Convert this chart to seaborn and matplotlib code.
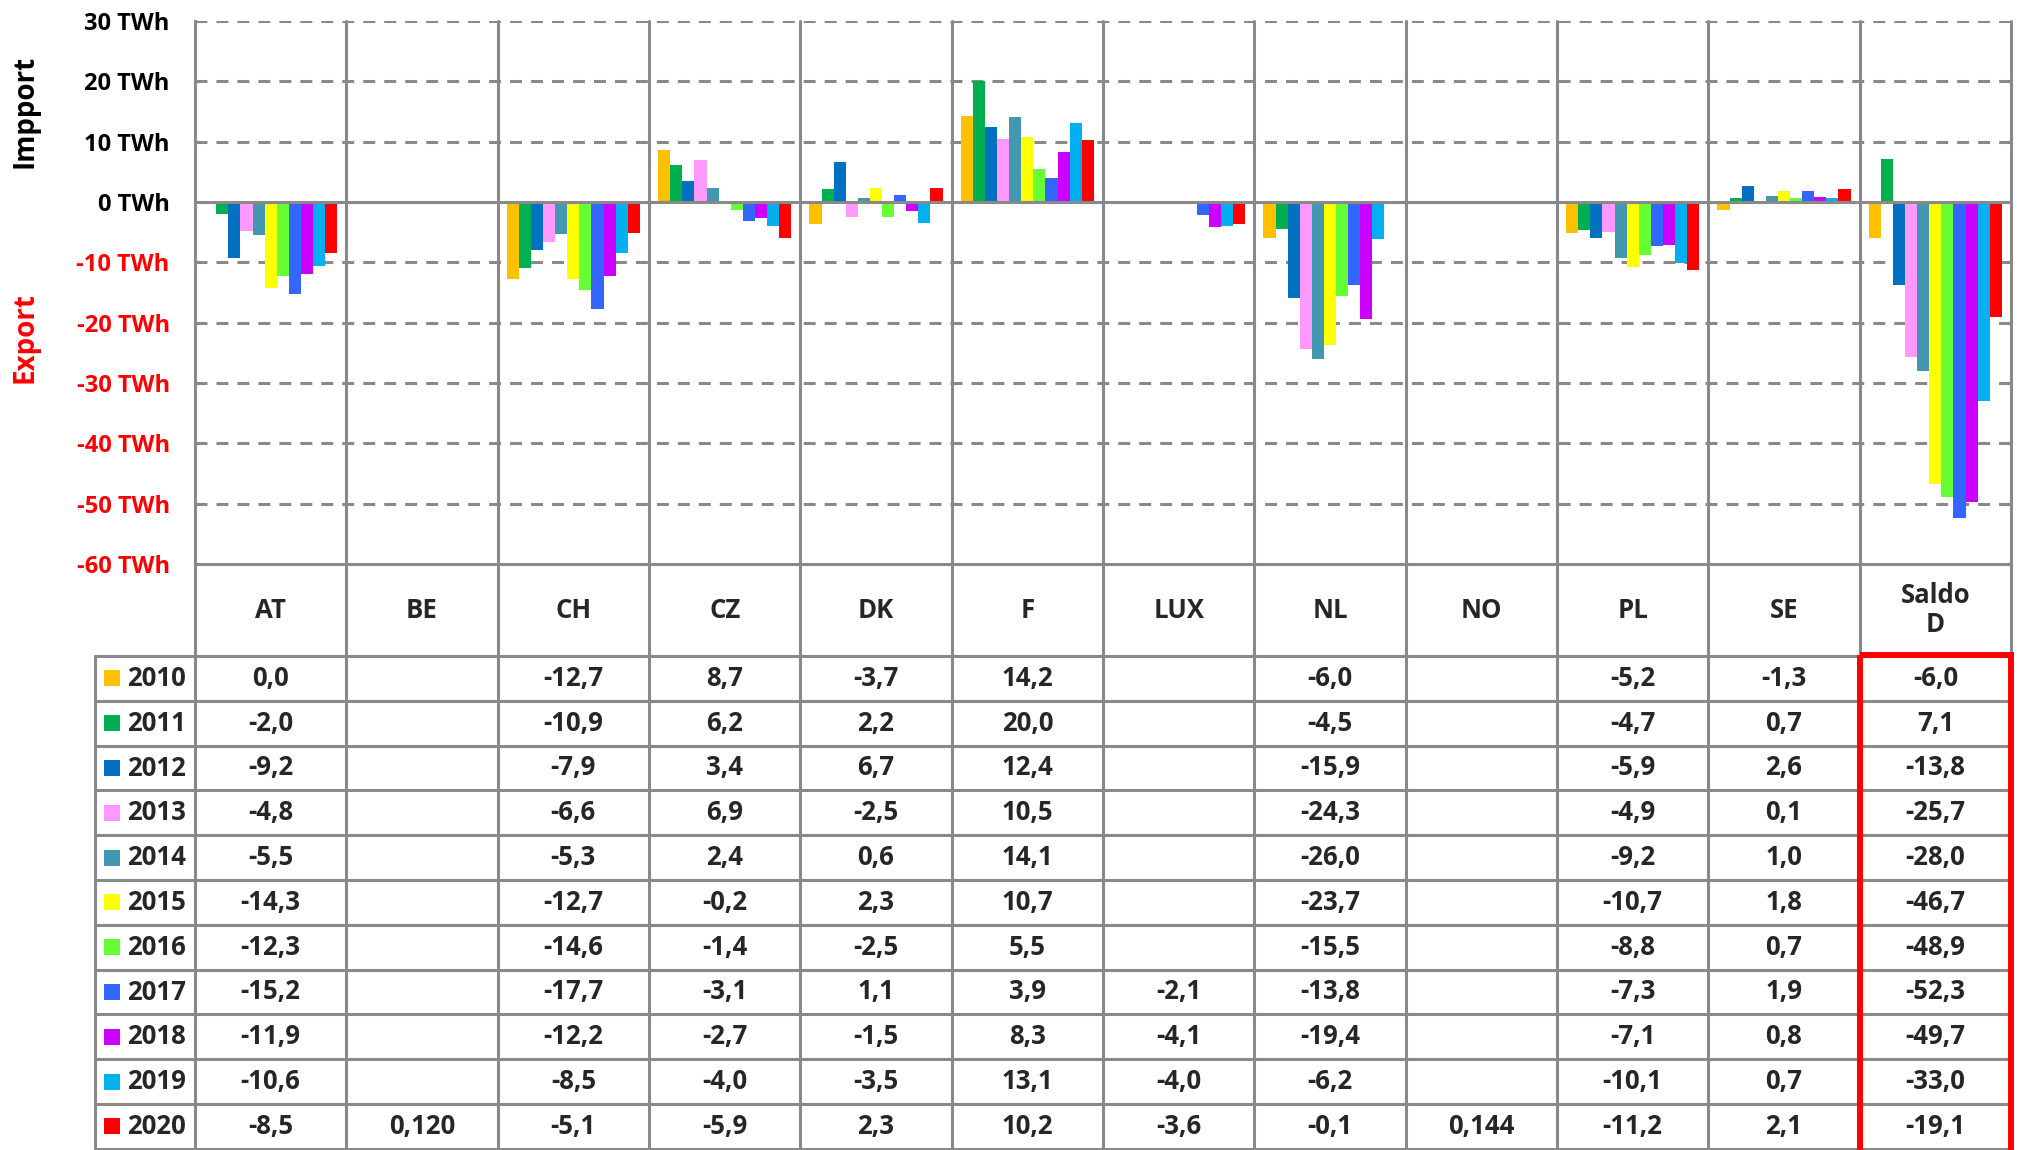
import numpy as np
import pandas as pd
import matplotlib
matplotlib.use("Agg")
import matplotlib.pyplot as plt
from matplotlib.patches import Rectangle
import seaborn as sns

# ---- data (TWh, negative = export) ----
YEARS = ["2010", "2011", "2012", "2013", "2014", "2015", "2016", "2017", "2018", "2019", "2020"]
COUNTRIES = ["AT", "BE", "CH", "CZ", "DK", "F", "LUX", "NL", "NO", "PL", "SE", "Saldo D"]
HEADER_LABELS = ["AT", "BE", "CH", "CZ", "DK", "F", "LUX", "NL", "NO", "PL", "SE", "Saldo\nD"]
COLORS = ["#FFC000", "#00B050", "#0070C0", "#FF99FF", "#4397B0", "#FFFF00",
          "#66FF33", "#3366FF", "#CC00FF", "#00B0F0", "#FF0000"]

at = [0.0, -2.0, -9.2, -4.8, -5.5, -14.3, -12.3, -15.2, -11.9, -10.6, -8.5]
be = [None] * 10 + [0.120]
ch = [-12.7, -10.9, -7.9, -6.6, -5.3, -12.7, -14.6, -17.7, -12.2, -8.5, -5.1]
cz = [8.7, 6.2, 3.4, 6.9, 2.4, -0.2, -1.4, -3.1, -2.7, -4.0, -5.9]
dk = [-3.7, 2.2, 6.7, -2.5, 0.6, 2.3, -2.5, 1.1, -1.5, -3.5, 2.3]
fr = [14.2, 20.0, 12.4, 10.5, 14.1, 10.7, 5.5, 3.9, 8.3, 13.1, 10.2]
lux = [None] * 7 + [-2.1, -4.1, -4.0, -3.6]
nl = [-6.0, -4.5, -15.9, -24.3, -26.0, -23.7, -15.5, -13.8, -19.4, -6.2, -0.1]
no = [None] * 10 + [0.144]
pl = [-5.2, -4.7, -5.9, -4.9, -9.2, -10.7, -8.8, -7.3, -7.1, -10.1, -11.2]
se = [-1.3, 0.7, 2.6, 0.1, 1.0, 1.8, 0.7, 1.9, 0.8, 0.7, 2.1]
saldo = [-6.0, 7.1, -13.8, -25.7, -28.0, -46.7, -48.9, -52.3, -49.7, -33.0, -19.1]
SERIES = [at, be, ch, cz, dk, fr, lux, nl, no, pl, se, saldo]
DECIMALS = {"BE": 3, "NO": 3}
Y_TICKS = list(range(-60, 31, 10))

records = [(c, y, v) for c, vals in zip(COUNTRIES, SERIES)
           for y, v in zip(YEARS, vals) if v is not None]
df = pd.DataFrame(records, columns=["country", "year", "value"])

# ---- style ----
sns.set_style("white")
plt.rcParams["font.family"] = ["Open Sans", "DejaVu Sans"]
plt.rcParams["font.weight"] = "bold"
plt.rcParams["lines.scale_dashes"] = False
GRID = "#898989"
LW = 2.2
RED = "#FF0000"
FS_TAB = 18.5

W, H = 2017, 1150
X0, X1 = 195, 2011          # plot area left/right (px)
Y_TOP, Y_BOT = 21, 564      # 30 TWh / -60 TWh (px)
LEG_X = 95                  # left border of legend column
HDR_BOT = 656               # bottom of header row
ROW_H = 44.8

fig = plt.figure(figsize=(W / 100, H / 100), dpi=100)
ax = fig.add_axes([X0 / W, 1 - Y_BOT / H, (X1 - X0) / W, (Y_BOT - Y_TOP) / H])

sns.barplot(data=df, x="country", y="value", hue="year", order=COUNTRIES,
            hue_order=YEARS, palette=COLORS, width=0.88, saturation=1,
            errorbar=None, legend=False, linewidth=0, ax=ax, zorder=3)

ax.set_xlim(-0.5, len(COUNTRIES) - 0.5)
ax.set_ylim(-60, 30)
ax.set_xlabel("")
ax.set_ylabel("")
ax.set_xticks([])
ax.set_yticks(Y_TICKS)
ax.set_yticklabels([f"{v} TWh" for v in Y_TICKS], fontsize=17, fontweight="bold")
for lab, v in zip(ax.get_yticklabels(), Y_TICKS):
    lab.set_color(RED if v < 0 else "black")
ax.tick_params(axis="y", direction="out", length=7.2, width=LW, color=GRID, pad=11)

for s in ["top", "right"]:
    ax.spines[s].set_visible(False)
for s in ["left", "bottom"]:
    ax.spines[s].set_color(GRID)
    ax.spines[s].set_linewidth(LW)

for v in Y_TICKS:
    if v == 0:
        ax.axhline(v, color=GRID, lw=LW, zorder=4)
    elif v != -60:
        ax.axhline(v, color=GRID, lw=LW, ls=(0, (8.6, 6.5)), zorder=1)
for k in range(1, len(COUNTRIES) + 1):
    ax.axvline(k - 0.5, color=GRID, lw=LW, zorder=1, clip_on=False)

fig.text(25 / W, 1 - 111 / H, "Impport", rotation=90, ha="center", va="center",
         fontsize=20, fontweight="bold", color="black")
fig.text(25 / W, 1 - 338 / H, "Export", rotation=90, ha="center", va="center",
         fontsize=20, fontweight="bold", color=RED)

# ---- data table below the chart ----
unit = (X1 - X0) / len(COUNTRIES)
x_leg = -0.5 - (X0 - LEG_X) / unit
hdr = (HDR_BOT - Y_BOT) / ROW_H
n_rows = len(YEARS)
tax = fig.add_axes([LEG_X / W, 0, (X1 - LEG_X) / W, (H - Y_BOT) / H])
tax.set_xlim(x_leg, len(COUNTRIES) - 0.5)
tax.set_ylim((H - HDR_BOT) / ROW_H, -hdr)
tax.axis("off")

for k in range(len(COUNTRIES) + 1):
    tax.plot([k - 0.5, k - 0.5], [-hdr, n_rows], color=GRID, lw=LW, clip_on=False)
tax.plot([x_leg, x_leg], [0, n_rows], color=GRID, lw=LW, clip_on=False)
for r in range(n_rows + 1):
    tax.plot([x_leg, len(COUNTRIES) - 0.5], [r, r], color=GRID, lw=LW, clip_on=False)

for i, lab in enumerate(HEADER_LABELS):
    tax.text(i, -hdr / 2, lab, ha="center", va="center", fontsize=FS_TAB,
             fontweight="bold", linespacing=1.1)

for i, (c, vals) in enumerate(zip(COUNTRIES, SERIES)):
    d = DECIMALS.get(c, 1)
    for r, v in enumerate(vals):
        if v is None:
            continue
        txt = f"{v:.{d}f}".replace(".", ",")
        tax.text(i, r + 0.5, txt, ha="center", va="center", fontsize=FS_TAB,
                 fontweight="bold")

sq_x = x_leg + (112 - LEG_X) / unit
yr_x = x_leg + (127 - LEG_X) / unit
for r, (y, col) in enumerate(zip(YEARS, COLORS)):
    tax.scatter([sq_x], [r + 0.5], marker="s", s=125, color=col, linewidths=0)
    tax.text(yr_x, r + 0.5, y, ha="left", va="center", fontsize=FS_TAB, fontweight="bold")

tax.add_patch(Rectangle((len(COUNTRIES) - 1.5, -0.03), 1.0, n_rows + 0.5, fill=False,
                        edgecolor=RED, lw=4.3, clip_on=False, zorder=5))

fig.savefig("out.png", dpi=100)
